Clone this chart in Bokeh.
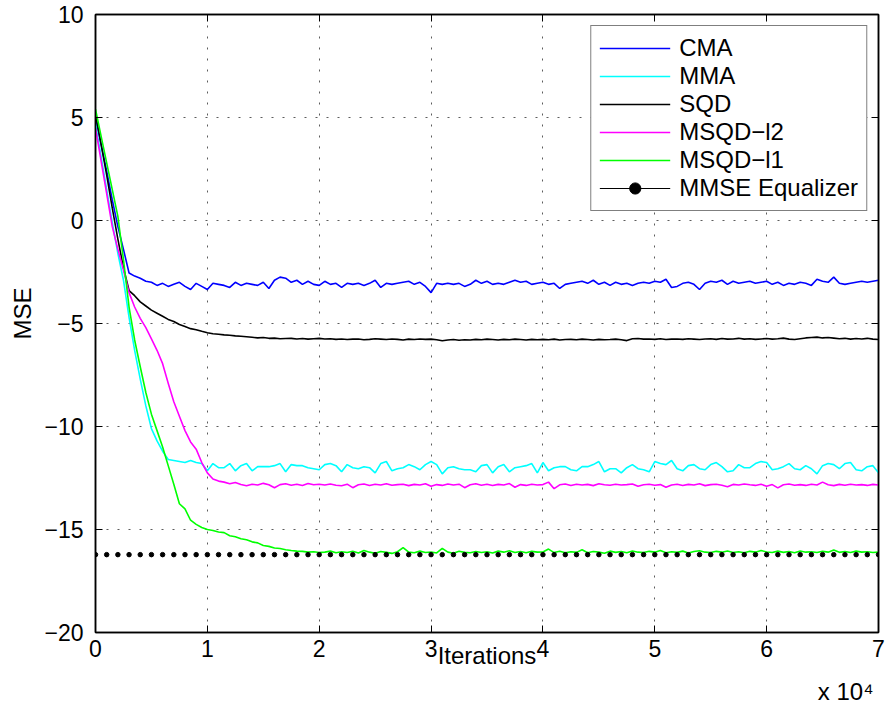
from bokeh.plotting import figure
from bokeh.models import Range1d, LinearAxis, FixedTicker, Legend, LegendItem, Title
from bokeh.embed import file_html
from bokeh.resources import INLINE

# ---------------- data ----------------
iterations = [
    0, 500, 1000, 1500, 2000, 2500, 3000, 3500, 4000, 4500,
    5000, 5500, 6000, 6500, 7000, 7500, 8000, 8500, 9000, 9500,
    10000, 10500, 11000, 11500, 12000, 12500, 13000, 13500, 14000, 14500,
    15000, 15500, 16000, 16500, 17000, 17500, 18000, 18500, 19000, 19500,
    20000, 20500, 21000, 21500, 22000, 22500, 23000, 23500, 24000, 24500,
    25000, 25500, 26000, 26500, 27000, 27500, 28000, 28500, 29000, 29500,
    30000, 30500, 31000, 31500, 32000, 32500, 33000, 33500, 34000, 34500,
    35000, 35500, 36000, 36500, 37000, 37500, 38000, 38500, 39000, 39500,
    40000, 40500, 41000, 41500, 42000, 42500, 43000, 43500, 44000, 44500,
    45000, 45500, 46000, 46500, 47000, 47500, 48000, 48500, 49000, 49500,
    50000, 50500, 51000, 51500, 52000, 52500, 53000, 53500, 54000, 54500,
    55000, 55500, 56000, 56500, 57000, 57500, 58000, 58500, 59000, 59500,
    60000, 60500, 61000, 61500, 62000, 62500, 63000, 63500, 64000, 64500,
    65000, 65500, 66000, 66500, 67000, 67500, 68000, 68500, 69000, 69500,
    70000,
]

cma = [
    5.0, 3.7, 2.4, 1.0, -0.3, -1.4, -2.55, -2.7, -2.8, -2.95,
    -3.0, -3.15, -3.05, -3.2, -3.1, -3.0, -3.2, -3.35, -3.05, -3.2,
    -3.35, -3.05, -3.1, -3.15, -3.25, -3.0, -3.15, -3.05, -3.1, -3.15,
    -3.0, -3.3, -2.9, -2.75, -2.8, -3.0, -2.9, -3.1, -2.95, -3.1,
    -3.15, -2.95, -3.1, -3.05, -3.25, -3.05, -3.1, -3.05, -3.15, -3.05,
    -2.9, -3.25, -3.05, -3.1, -3.05, -3.0, -2.95, -3.1, -3.0, -3.2,
    -3.5, -3.05, -3.1, -3.05, -3.1, -3.05, -3.2, -3.1, -2.9, -3.05,
    -2.95, -3.1, -3.05, -3.1, -3.0, -2.9, -3.0, -2.95, -3.1, -3.05,
    -3.0, -3.1, -3.05, -3.3, -3.1, -3.05, -3.0, -2.95, -3.05, -2.9,
    -3.1, -3.0, -3.15, -3.0, -3.1, -3.05, -3.15, -3.05, -3.0, -3.05,
    -2.95, -3.0, -2.85, -3.25, -3.2, -3.05, -3.0, -3.1, -3.35, -3.05,
    -2.95, -3.0, -2.9, -3.1, -2.95, -3.05, -3.0, -2.95, -3.05, -3.0,
    -2.95, -3.1, -3.0, -3.15, -3.05, -3.1, -3.0, -3.05, -3.15, -2.85,
    -2.95, -3.0, -2.75, -3.05, -3.1, -3.05, -3.0, -2.95, -3.0, -2.95,
    -2.9,
]

mma = [
    4.7, 3.1, 1.5, -0.1, -1.6, -2.9, -4.7, -6.3, -7.7, -9.0,
    -10.1, -10.7, -11.2, -11.6, -11.65, -11.7, -11.75, -11.65, -11.75, -11.8,
    -12.15, -11.8, -12.0, -12.0, -11.8, -12.15, -11.9, -11.8, -12.15, -11.95,
    -11.95, -11.95, -11.9, -11.8, -12.2, -11.85, -11.9, -11.9, -12.0, -12.05,
    -12.1, -11.85, -11.8, -11.9, -12.2, -11.85, -12.0, -12.05, -11.95, -12.0,
    -12.25, -11.8, -11.7, -12.15, -12.05, -12.0, -11.85, -11.95, -12.1, -11.85,
    -11.7, -11.85, -12.3, -12.0, -11.95, -12.05, -12.1, -12.1, -12.2, -11.9,
    -11.85, -12.25, -11.95, -11.85, -12.2, -12.0, -11.95, -11.9, -11.8, -12.25,
    -11.75, -12.15, -12.0, -11.95, -11.95, -12.1, -12.15, -11.95, -11.95, -11.85,
    -11.7, -12.2, -12.05, -12.05, -12.25, -12.0, -11.85, -12.05, -12.1, -12.2,
    -11.7, -11.8, -11.85, -11.65, -12.05, -12.15, -11.9, -11.85, -12.05, -12.1,
    -11.85, -11.75, -11.95, -12.2, -12.15, -11.85, -12.0, -12.0, -11.8, -11.7,
    -11.75, -12.1, -12.05, -11.95, -11.8, -12.05, -12.1, -11.9, -12.05, -12.3,
    -11.9, -11.8, -11.85, -12.05, -11.8, -11.75, -12.1, -12.15, -11.95, -11.9,
    -12.25,
]

sqd = [
    5.15, 3.7, 2.2, 0.6, -0.9, -2.3, -3.4, -3.65, -3.95, -4.15,
    -4.35, -4.5, -4.65, -4.8, -4.9, -5.05, -5.15, -5.25, -5.3, -5.38,
    -5.45, -5.5, -5.52, -5.55, -5.57, -5.6, -5.62, -5.64, -5.67, -5.7,
    -5.68, -5.72, -5.71, -5.74, -5.73, -5.72, -5.75, -5.73, -5.76, -5.74,
    -5.72, -5.75, -5.74, -5.77, -5.75, -5.78, -5.76, -5.75, -5.79, -5.77,
    -5.74, -5.76, -5.78, -5.75, -5.77, -5.8, -5.76, -5.78, -5.75, -5.77,
    -5.76, -5.79, -5.84, -5.8, -5.78, -5.81, -5.79, -5.8, -5.77, -5.79,
    -5.76, -5.78, -5.8, -5.77, -5.79, -5.76, -5.78, -5.8, -5.77, -5.79,
    -5.77, -5.79, -5.76, -5.8, -5.78, -5.77, -5.79, -5.76, -5.78, -5.8,
    -5.77, -5.79, -5.78, -5.76, -5.79, -5.83, -5.74, -5.73, -5.76, -5.75,
    -5.77, -5.74, -5.78, -5.76, -5.75, -5.77, -5.74, -5.76, -5.78, -5.75,
    -5.74, -5.77, -5.73, -5.76, -5.75, -5.72, -5.76, -5.74, -5.77, -5.75,
    -5.73, -5.76, -5.74, -5.71, -5.76, -5.78, -5.74, -5.7, -5.68, -5.66,
    -5.7, -5.68, -5.71, -5.74, -5.72, -5.76, -5.73, -5.75, -5.72, -5.76,
    -5.78,
]

msqd_l2 = [
    4.5, 2.9, 1.3, -0.3, -1.4, -2.4, -3.5, -4.2, -4.75, -5.2,
    -5.75, -6.3, -6.95, -7.9, -8.8, -9.5, -10.2, -10.75, -11.1, -11.75,
    -12.25, -12.55, -12.65, -12.7, -12.78, -12.72, -12.82, -12.88, -12.8, -12.84,
    -12.76, -12.83, -12.97, -12.82, -12.78, -12.85, -12.8, -12.86, -12.77, -12.83,
    -12.8, -12.84, -12.79, -12.85, -12.88, -12.8, -12.97, -12.83, -12.79, -12.86,
    -12.8, -12.84, -12.78, -12.85, -12.82, -12.8, -12.87, -12.81, -12.84, -12.78,
    -12.9, -12.82, -12.86, -12.79, -12.84, -12.8, -12.97, -12.83, -12.78, -12.85,
    -12.8, -12.86, -12.81, -12.84, -12.77, -12.95, -12.82, -12.86, -12.8, -12.84,
    -12.82, -12.7, -13.02, -12.83, -12.79, -12.86, -12.8, -12.84, -12.81, -12.87,
    -12.78, -12.83, -12.85, -12.8, -12.84, -12.82, -12.79, -12.9, -12.83, -12.8,
    -12.85, -12.82, -12.95, -12.84, -12.8, -12.86, -12.81, -12.84, -12.78, -12.87,
    -12.82, -12.8, -12.85, -12.92, -12.81, -12.84, -12.79, -12.83, -12.86, -12.8,
    -12.9, -12.82, -12.98, -12.83, -12.79, -12.85, -12.82, -12.86, -12.8, -12.84,
    -12.7, -12.83, -12.87, -12.81, -12.85, -12.8, -12.84, -12.82, -12.86, -12.81,
    -12.84,
]

msqd_l1 = [
    5.4, 4.1, 2.8, 1.5, 0.2, -1.9, -4.2, -5.8, -7.1, -8.35,
    -9.4, -10.2, -11.0, -11.9, -12.8, -13.75, -14.0, -14.55, -14.75, -14.9,
    -15.0, -15.05, -15.12, -15.15, -15.3, -15.35, -15.45, -15.5, -15.6, -15.65,
    -15.78, -15.82, -15.9, -15.92, -15.98, -16.02, -16.05, -16.06, -16.1, -16.08,
    -16.12, -16.1, -16.05, -16.13, -16.08, -16.12, -16.06, -16.14, -16.02, -16.1,
    -16.15, -16.07, -16.11, -16.16, -16.08, -15.88, -16.1, -16.13, -16.05, -16.12,
    -16.09, -16.14, -15.92, -16.1, -16.15, -16.06, -16.11, -16.13, -16.07, -16.12,
    -16.08, -16.14, -16.05, -16.1, -16.03, -16.12, -16.07, -16.13, -16.06, -16.1,
    -16.09, -15.95, -16.12, -16.06, -16.13, -16.08, -16.11, -15.98, -16.13, -16.07,
    -16.1, -16.15, -16.05, -16.11, -16.07, -16.13, -16.04, -16.1, -16.12, -16.06,
    -16.1, -16.02, -16.13, -16.08, -16.11, -16.05, -16.14, -16.07, -16.03, -16.1,
    -16.12, -16.06, -16.1, -16.04, -16.12, -16.08, -16.13, -16.06, -16.1, -16.02,
    -16.09, -16.12, -16.05, -16.11, -16.07, -16.13, -16.04, -16.1, -16.08, -16.12,
    -16.06, -16.1, -16.0, -16.11, -16.07, -16.12, -16.05, -16.1, -16.08, -16.12,
    -16.1,
]

mmse_iterations = [
    0, 1000, 2000, 3000, 4000, 5000, 6000, 7000, 8000, 9000,
    10000, 11000, 12000, 13000, 14000, 15000, 16000, 17000, 18000, 19000,
    20000, 21000, 22000, 23000, 24000, 25000, 26000, 27000, 28000, 29000,
    30000, 31000, 32000, 33000, 34000, 35000, 36000, 37000, 38000, 39000,
    40000, 41000, 42000, 43000, 44000, 45000, 46000, 47000, 48000, 49000,
    50000, 51000, 52000, 53000, 54000, 55000, 56000, 57000, 58000, 59000,
    60000, 61000, 62000, 63000, 64000, 65000, 66000, 67000, 68000, 69000,
    70000,
]
mmse = [
    -16.22, -16.22, -16.22, -16.22, -16.22, -16.22, -16.22, -16.22, -16.22, -16.22,
    -16.22, -16.22, -16.22, -16.22, -16.22, -16.22, -16.22, -16.22, -16.22, -16.22,
    -16.22, -16.22, -16.22, -16.22, -16.22, -16.22, -16.22, -16.22, -16.22, -16.22,
    -16.22, -16.22, -16.22, -16.22, -16.22, -16.22, -16.22, -16.22, -16.22, -16.22,
    -16.22, -16.22, -16.22, -16.22, -16.22, -16.22, -16.22, -16.22, -16.22, -16.22,
    -16.22, -16.22, -16.22, -16.22, -16.22, -16.22, -16.22, -16.22, -16.22, -16.22,
    -16.22, -16.22, -16.22, -16.22, -16.22, -16.22, -16.22, -16.22, -16.22, -16.22,
    -16.22,
]

series_names = ["CMA", "MMA", "SQD", "MSQD\u2212l2", "MSQD\u2212l1"]
mmse_name = "MMSE Equalizer"

x_ticks = [0, 10000, 20000, 30000, 40000, 50000, 60000, 70000]
x_tick_labels = ["0", "1", "2", "3", "4", "5", "6", "7"]
y_ticks = [-20, -15, -10, -5, 0, 5, 10]
y_tick_labels = ["\u221220", "\u221215", "\u221210", "\u22125", "0", "5", "10"]

# ---------------- figure ----------------
FONT = "Liberation Sans"
FS_TICK = "23px"
FS = "24px"

p = figure(width=885, height=710, output_backend="svg", toolbar_location=None,
           x_range=Range1d(0, 70000), y_range=Range1d(-20, 10),
           min_border_left=95, min_border_right=7, min_border_top=14, min_border_bottom=78)
p.background_fill_color = "white"
p.border_fill_color = "white"
p.outline_line_color = "black"
p.outline_line_width = 1.5

def style_axis(ax, ticker, labels, standoff):
    ax.ticker = ticker
    ax.major_label_overrides = labels
    ax.major_tick_in = 7
    ax.major_tick_out = 0
    ax.minor_tick_in = 0
    ax.minor_tick_out = 0
    ax.axis_line_width = 1.5
    ax.axis_line_color = "black"
    ax.major_tick_line_color = "black"
    ax.major_tick_line_width = 1
    ax.major_label_text_font = FONT
    ax.major_label_text_font_size = FS_TICK
    ax.major_label_text_color = "black"
    ax.major_label_standoff = standoff

xt = FixedTicker(ticks=x_ticks)
yt = FixedTicker(ticks=y_ticks)

style_axis(p.xaxis[0], xt, dict(zip(x_ticks, x_tick_labels)), 7)
style_axis(p.yaxis[0], yt, dict(zip(y_ticks, y_tick_labels)), 12)

p.xaxis.axis_label = "Iterations"
p.xaxis.axis_label_text_font = FONT
p.xaxis.axis_label_text_font_size = FS
p.xaxis.axis_label_text_font_style = "normal"
p.xaxis.axis_label_text_color = "black"
p.xaxis.axis_label_standoff = -18

# y-axis title as a side title (rotated), placed a little above the frame centre
p.add_layout(Title(text="MSE", align="right", offset=273, standoff=12,
                   text_font=FONT, text_font_size=FS, text_font_style="normal",
                   text_color="black"), "left")

# x-axis multiplier below the axis, right aligned
p.add_layout(Title(text="x 10\u2074", align="right", offset=5, standoff=8,
                   text_font=FONT, text_font_size=FS, text_font_style="normal",
                   text_color="black"), "below")

ra = LinearAxis()
style_axis(ra, FixedTicker(ticks=y_ticks), {t: "" for t in y_ticks}, 0)
ra.major_label_text_font_size = "0px"
p.add_layout(ra, "right")
ta = LinearAxis()
style_axis(ta, FixedTicker(ticks=x_ticks), {t: "" for t in x_ticks}, 0)
ta.major_label_text_font_size = "0px"
p.add_layout(ta, "above")

p.xgrid.ticker = xt
p.ygrid.ticker = yt
for g in (p.xgrid[0], p.ygrid[0]):
    g.grid_line_color = "#333333"
    g.grid_line_width = 1
    g.grid_line_dash = "2 9"
    g.grid_line_alpha = 0.8

colors = ["#0000ff", "#00ffff", "#000000", "#ff00ff", "#00ff00"]
data = [cma, mma, sqd, msqd_l2, msqd_l1]
items = []
for name, col, ys in zip(series_names, colors, data):
    r = p.line(iterations, ys, line_color=col, line_width=1.6)
    items.append(LegendItem(label=name, renderers=[r]))

# one-point line: draws nothing in the plot, gives the legend its line
r_mmse_line = p.line(mmse_iterations[:1], mmse[:1], line_color="black", line_width=1)
r_mmse = p.scatter(mmse_iterations, mmse, marker="circle", size=4.5,
                   fill_color="black", line_color="black")
items.append(LegendItem(label=mmse_name, renderers=[r_mmse_line, r_mmse]))

legend = Legend(items=items, location="top_right", margin=11, padding=8, spacing=0,
                label_height=28, glyph_height=28, glyph_width=71, label_standoff=9,
                border_line_color="black", border_line_width=1.5,
                background_fill_color="white", background_fill_alpha=1.0,
                label_text_font=FONT, label_text_font_size=FS, label_text_color="black")
p.add_layout(legend)

open("out.html", "w").write(file_html(p, INLINE))
